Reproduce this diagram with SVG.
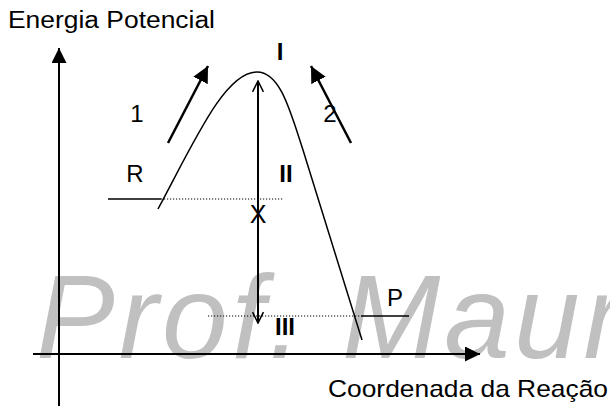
<svg xmlns="http://www.w3.org/2000/svg" width="610" height="406" viewBox="0 0 610 406">
<style>
  .t { font-family: "Liberation Sans", Arial, sans-serif; fill: #000; }
  .lbl { font-size: 24px; text-anchor: middle; }
  .b { font-weight: bold; }
  .ln { stroke: #000; fill: none; }
  .dot { stroke: #000; stroke-width: 1.2; stroke-dasharray: 1.2 1.8; fill: none; }
  .wm { font-family: "Liberation Sans", Arial, sans-serif; font-style: italic; font-size: 118px; letter-spacing: 4px; fill: #c0c0c0; }
</style>
<defs>
  <marker id="solid" viewBox="0 0 10 10" refX="10" refY="5" markerWidth="6.5" markerHeight="6.5" orient="auto" markerUnits="strokeWidth">
    <path d="M0,0 L10,5 L0,10 z" fill="#000"/>
  </marker>
  <marker id="axis" viewBox="0 0 10 10" refX="10" refY="5" markerWidth="7.5" markerHeight="7.5" orient="auto" markerUnits="strokeWidth">
    <path d="M0,0 L10,5 L0,10 z" fill="#000"/>
  </marker>
  <marker id="open" viewBox="0 0 12 12" refX="11" refY="6" markerWidth="6.5" markerHeight="6.5" orient="auto" markerUnits="strokeWidth">
    <path d="M1,1 L11,6 L1,11" fill="none" stroke="#000" stroke-width="1.4"/>
  </marker>
</defs>

<g id="watermark">
  <text class="wm" x="36" y="358">Prof. Maur</text>
</g>

<g id="title">
  <text class="t" x="8" y="28" font-size="23" textLength="207" lengthAdjust="spacingAndGlyphs">Energia Potencial</text>
</g>

<g id="connectors">
  <line id="y-axis" class="ln" x1="59" y1="406" x2="59" y2="48" stroke-width="2" marker-end="url(#axis)"/>
  <line id="x-axis" class="ln" x1="33" y1="354" x2="480" y2="354" stroke-width="2" marker-end="url(#axis)"/>
  <path id="curve" class="ln" stroke-width="1.5" d="M158,209 C195,140 225,72 257,72 C280,72 290,110 303,150 L362,340"/>
  <line id="r-level" class="ln" x1="108" y1="199" x2="161" y2="199" stroke-width="1.5"/>
  <line id="r-dots" class="dot" x1="161" y1="199" x2="284" y2="199"/>
  <line id="p-level" class="ln" x1="361" y1="316" x2="409" y2="316" stroke-width="1.5"/>
  <line id="p-dots" class="dot" x1="208" y1="316" x2="361" y2="316"/>
  <line id="arrow-1" class="ln" x1="168" y1="143" x2="208" y2="66" stroke-width="2.5" marker-end="url(#solid)"/>
  <line id="arrow-2" class="ln" x1="351" y1="143" x2="311" y2="66" stroke-width="2.5" marker-end="url(#solid)"/>
  <line id="energy-up" class="ln" x1="258" y1="200" x2="258" y2="81" stroke-width="2" marker-end="url(#open)"/>
  <line id="energy-down" class="ln" x1="258" y1="200" x2="258" y2="323" stroke-width="2" marker-end="url(#open)"/>
</g>

<g id="labels">
  <text class="t" x="258" y="223" font-size="25" text-anchor="middle">X</text>
  <text class="t lbl" x="137" y="122">1</text>
  <text class="t lbl" x="330" y="122">2</text>
  <text class="t lbl" x="135" y="182">R</text>
  <text class="t lbl" x="395" y="306">P</text>
  <text class="t lbl b" x="280" y="60">I</text>
  <text class="t lbl b" x="286" y="182">II</text>
  <text class="t lbl b" x="285" y="335">III</text>
</g>

<g id="axis-label">
  <text class="t" x="328" y="397" font-size="24" textLength="280" lengthAdjust="spacingAndGlyphs">Coordenada da Reação</text>
</g>
</svg>
